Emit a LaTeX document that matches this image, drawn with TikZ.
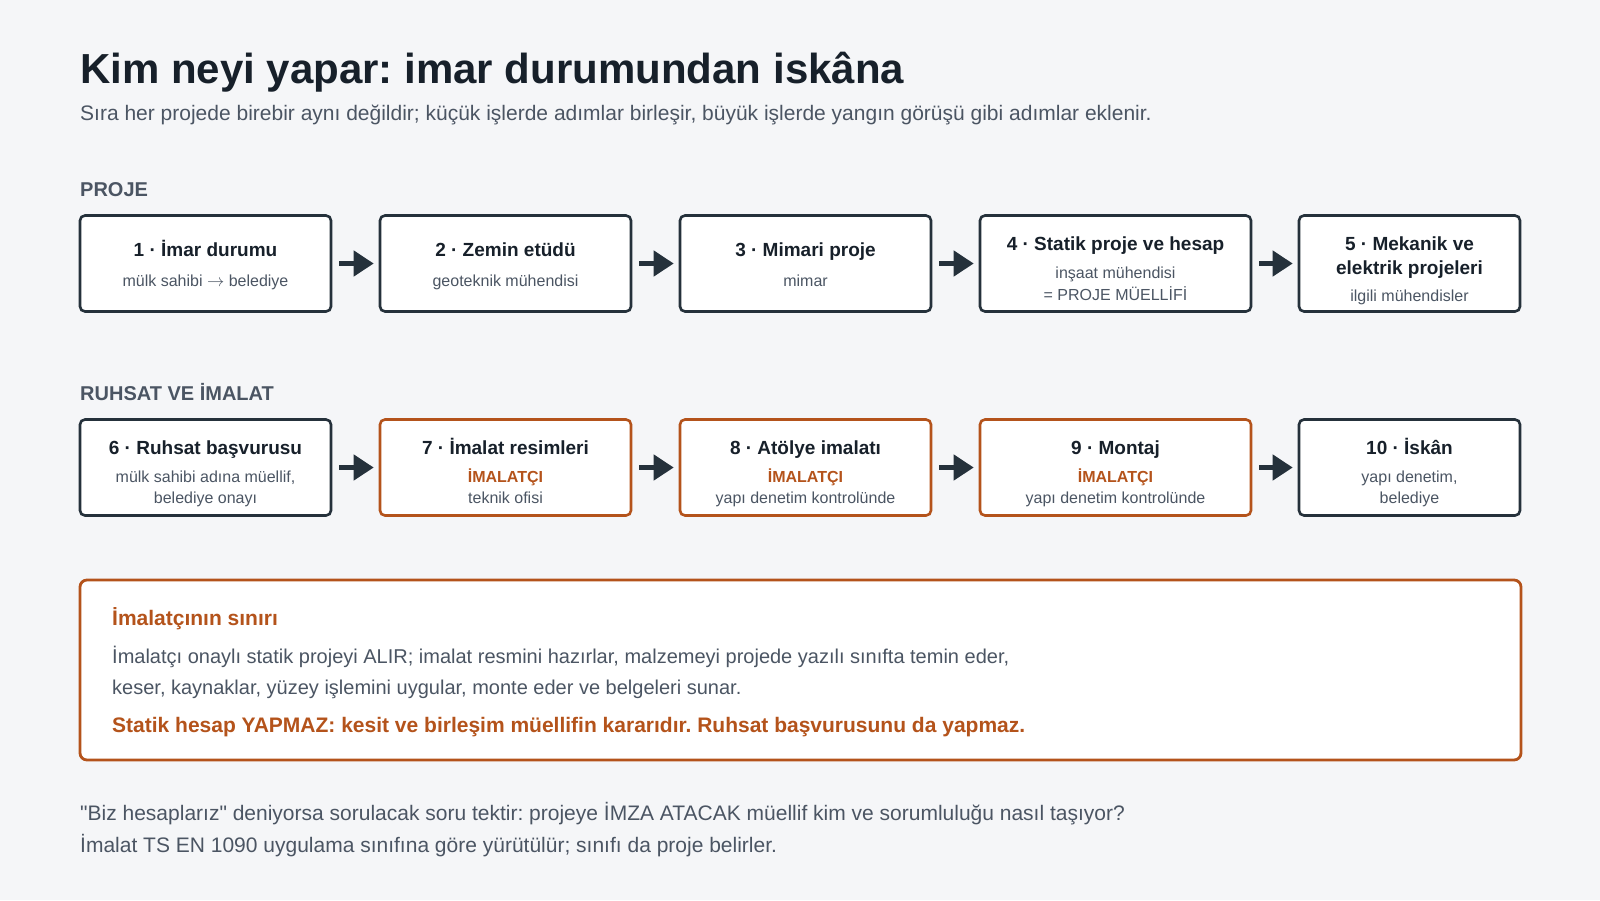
\documentclass[tikz,border=0pt]{standalone}
\usepackage{fontspec}
\setmainfont{Liberation Sans}[Ligatures=TeXOff]
\usetikzlibrary{arrows.meta}
\definecolor{bgc}{HTML}{F5F6F8}
\definecolor{ink}{HTML}{17202A}
\definecolor{boxline}{HTML}{25313B}
\definecolor{orng}{HTML}{B4531B}
\definecolor{graytxt}{HTML}{4B5563}
\frenchspacing
\tikzset{
  stepbox/.style={draw=boxline, line width=2.6pt, rounded corners=5pt, fill=white, inner sep=0pt, minimum height=96pt},
  orbox/.style={stepbox, draw=orng},
  flowarrow/.style={draw=boxline, line width=4.5pt, -{Triangle[length=20pt,width=25pt]}, shorten <=7pt, shorten >=5pt},
  ttl/.style={anchor=base, inner sep=0pt, text=ink, font=\fontsize{19}{23}\selectfont\bfseries},
  sub/.style={anchor=base, inner sep=0pt, text=graytxt, font=\fontsize{16}{19}\selectfont},
  who/.style={anchor=base, inner sep=0pt, text=orng, font=\fontsize{16}{19}\selectfont\bfseries},
  seclabel/.style={anchor=base west, inner sep=0pt, text=graytxt, font=\fontsize{20}{24}\selectfont\bfseries},
  para/.style={anchor=base west, inner sep=0pt, text=graytxt, font=\fontsize{20}{24}\selectfont},
}
\begin{document}
\begin{tikzpicture}[x=1pt,y=-1pt]
\fill[bgc] (0,0) rectangle (1600,900);
\useasboundingbox (0,0) rectangle (1600,900);

% title
\node[anchor=base west, inner sep=0pt, text=ink, font=\fontsize{42}{50}\selectfont\bfseries] (title) at (80,83) {Kim neyi yapar: imar durumundan iskâna};
\node[anchor=base west, inner sep=0pt, text=graytxt, font=\fontsize{21}{25}\selectfont] (subtitle) at (80,120) {Sıra her projede birebir aynı değildir; küçük işlerde adımlar birleşir, büyük işlerde yangın görüşü gibi adımlar eklenir.};

% section 1
\node[seclabel] (sec1) at (80,196) {PROJE};

\node[stepbox, minimum width=251pt] (b1) at (205.5,263.5) {};
\node[stepbox, minimum width=251pt] (b2) at (505.5,263.5) {};
\node[stepbox, minimum width=251pt] (b3) at (805.5,263.5) {};
\node[stepbox, minimum width=271pt] (b4) at (1115.5,263.5) {};
\node[stepbox, minimum width=221pt] (b5) at (1409.5,263.5) {};

\node[ttl] (t1) at (205.5,256) {1 · İmar durumu};
\node[sub] (s1) at (205.5,286.5) {mülk sahibi $\rightarrow$ belediye};
\node[ttl] (t2) at (505.5,256) {2 · Zemin etüdü};
\node[sub] (s2) at (505.5,286.5) {geoteknik mühendisi};
\node[ttl] (t3) at (805.5,256) {3 · Mimari proje};
\node[sub] (s3) at (805.5,286.5) {mimar};
\node[ttl] (t4) at (1115.5,250) {4 · Statik proje ve hesap};
\node[sub] (s4a) at (1115.5,278.5) {inşaat mühendisi};
\node[sub] (s4b) at (1115.5,300) {= PROJE MÜELLİFİ};
\node[ttl] (t5a) at (1409.5,250) {5 · Mekanik ve};
\node[ttl] (t5b) at (1409.5,274) {elektrik projeleri};
\node[sub] (s5) at (1409.5,301) {ilgili mühendisler};

\draw[flowarrow] (b1.east) -- (b2.west);
\draw[flowarrow] (b2.east) -- (b3.west);
\draw[flowarrow] (b3.east) -- (b4.west);
\draw[flowarrow] (b4.east) -- (b5.west);

% section 2
\node[seclabel] (sec2) at (80,400) {RUHSAT VE İMALAT};

\node[stepbox, minimum width=251pt] (b6) at (205.5,467.5) {};
\node[orbox, minimum width=251pt] (b7) at (505.5,467.5) {};
\node[orbox, minimum width=251pt] (b8) at (805.5,467.5) {};
\node[orbox, minimum width=271pt] (b9) at (1115.5,467.5) {};
\node[stepbox, minimum width=221pt] (b10) at (1409.5,467.5) {};

\node[ttl] (t6) at (205.5,454) {6 · Ruhsat başvurusu};
\node[sub] (s6a) at (205.5,482) {mülk sahibi adına müellif,};
\node[sub] (s6b) at (205.5,503) {belediye onayı};
\node[ttl] (t7) at (505.5,454) {7 · İmalat resimleri};
\node[who] (w7) at (505.5,482) {İMALATÇI};
\node[sub] (s7) at (505.5,503) {teknik ofisi};
\node[ttl] (t8) at (805.5,454) {8 · Atölye imalatı};
\node[who] (w8) at (805.5,482) {İMALATÇI};
\node[sub] (s8) at (805.5,503) {yapı denetim kontrolünde};
\node[ttl] (t9) at (1115.5,454) {9 · Montaj};
\node[who] (w9) at (1115.5,482) {İMALATÇI};
\node[sub] (s9) at (1115.5,503) {yapı denetim kontrolünde};
\node[ttl] (t10) at (1409.5,454) {10 · İskân};
\node[sub] (s10a) at (1409.5,482) {yapı denetim,};
\node[sub] (s10b) at (1409.5,503) {belediye};

\draw[flowarrow] (b6.east) -- (b7.west);
\draw[flowarrow] (b7.east) -- (b8.west);
\draw[flowarrow] (b8.east) -- (b9.west);
\draw[flowarrow] (b9.east) -- (b10.west);

% limit box
\node[draw=orng, line width=2.8pt, rounded corners=7pt, fill=white, minimum width=1441pt, minimum height=180pt, inner sep=0pt] (limit) at (800.5,670) {};
\node[anchor=base west, inner sep=0pt, text=orng, font=\fontsize{21}{25}\selectfont\bfseries] (limtitle) at (112,625.5) {İmalatçının sınırı};
\node[para] (lim1) at (112,663.5) {İmalatçı onaylı statik projeyi ALIR; imalat resmini hazırlar, malzemeyi projede yazılı sınıfta temin eder,};
\node[para] (lim2) at (112,694) {keser, kaynaklar, yüzey işlemini uygular, monte eder ve belgeleri sunar.};
\node[anchor=base west, inner sep=0pt, text=orng, font=\fontsize{21}{25}\selectfont\bfseries] (lim3) at (112,732.5) {Statik hesap YAPMAZ: kesit ve birleşim müellifin kararıdır. Ruhsat başvurusunu da yapmaz.};

% footer
\node[anchor=base west, inner sep=0pt, text=graytxt, font=\fontsize{21}{25}\selectfont] (foot1) at (80,820.5) {"Biz hesaplarız" deniyorsa sorulacak soru tektir: projeye İMZA ATACAK müellif kim ve sorumluluğu nasıl taşıyor?};
\node[anchor=base west, inner sep=0pt, text=graytxt, font=\fontsize{21}{25}\selectfont] (foot2) at (80,852.5) {İmalat TS EN 1090 uygulama sınıfına göre yürütülür; sınıfı da proje belirler.};
\end{tikzpicture}
\end{document}
